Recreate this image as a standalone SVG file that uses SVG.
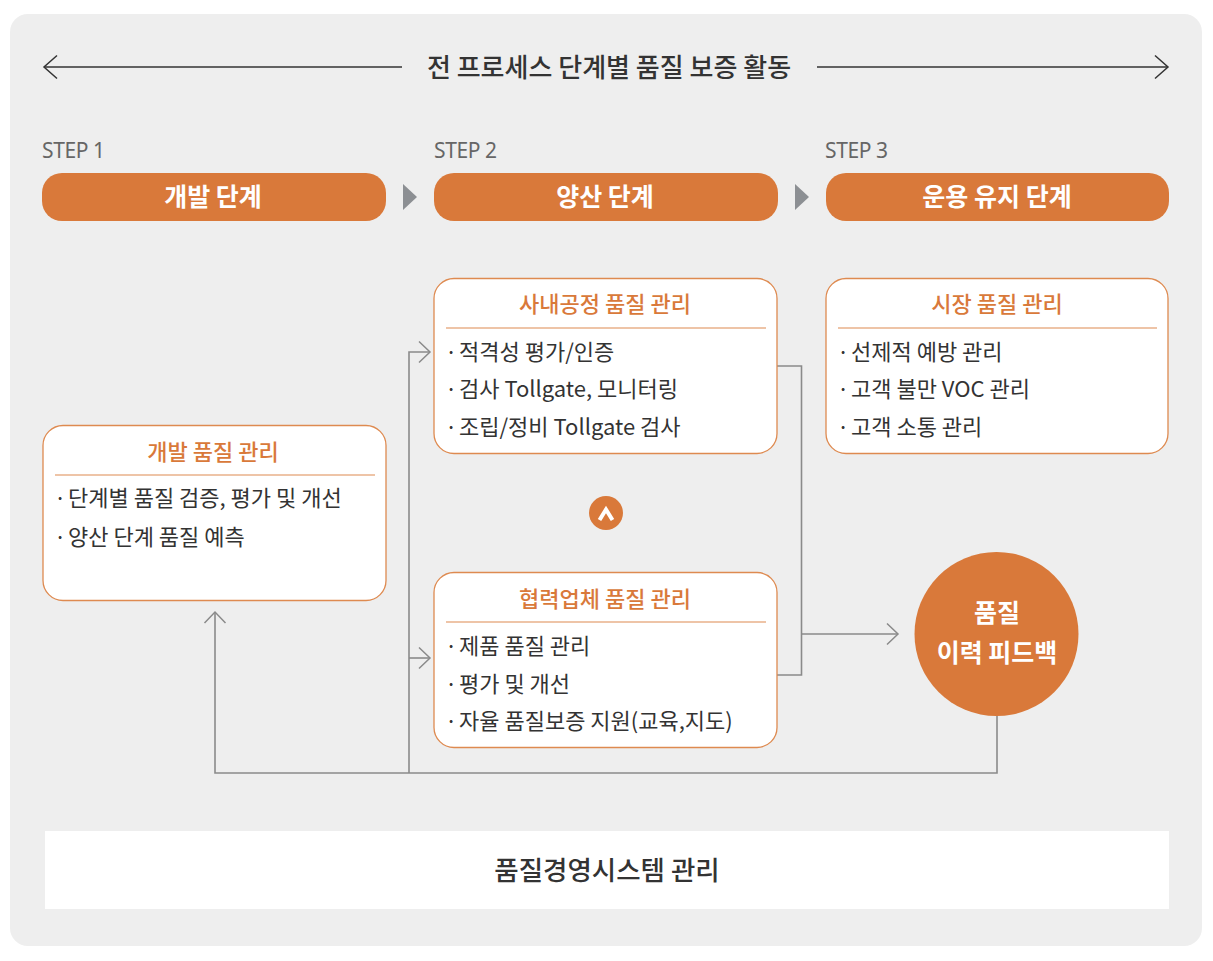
<svg xmlns="http://www.w3.org/2000/svg" width="1213" height="961" viewBox="0 0 1213 961">
<defs>
<style>
.k{font-family:"Noto Sans CJK KR","Noto Sans",sans-serif}
.step{font-family:"Noto Sans","Noto Sans CJK KR",sans-serif;font-size:21px;fill:#666;letter-spacing:-0.4px}
.pill{fill:#d9793a}
.pt{font-size:25px;font-weight:700;fill:#fff;text-anchor:middle}
.box{fill:#fff;stroke:#de8a50;stroke-width:1.3}
.bt{font-size:22px;font-weight:500;fill:#d9793a;text-anchor:middle}
.div{stroke:#de8a50;stroke-width:1.2}
.it{font-size:22px;fill:#333}
.con{fill:none;stroke:#8a8a8a;stroke-width:1.6}
.tri{fill:#8c8f93}
</style>
<marker id="ah" markerUnits="userSpaceOnUse" viewBox="-12 -12 14 24" refX="0" refY="0" markerWidth="14" markerHeight="24" orient="auto">
<path d="M-11,-10.5 L0,0 L-11,10.5" fill="none" stroke="#8a8a8a" stroke-width="1.5"/>
</marker>
<marker id="ahd" markerUnits="userSpaceOnUse" viewBox="-15 -13 17 26" refX="0" refY="0" markerWidth="17" markerHeight="26" orient="auto">
<path d="M-13,-11.5 L0,0 L-13,11.5" fill="none" stroke="#333" stroke-width="1.5"/>
</marker>
</defs>
<rect x="0" y="0" width="1213" height="961" fill="#fff"/>
<rect x="10" y="14" width="1192" height="932" rx="18" fill="#eeeeee"/>

<g id="header">
<line x1="402" y1="67" x2="44" y2="67" stroke="#333" stroke-width="1.5" marker-end="url(#ahd)"/>
<line x1="817" y1="67" x2="1168" y2="67" stroke="#333" stroke-width="1.5" marker-end="url(#ahd)"/>
<text class="k" x="609" y="76.5" font-size="26" font-weight="500" fill="#333" text-anchor="middle">전 프로세스 단계별 품질 보증 활동</text>
</g>

<g id="step1">
<text class="step" x="42" y="158">STEP 1</text>
<rect class="pill" x="42" y="173" width="344" height="48" rx="20"/>
<text class="k pt" x="213" y="206">개발 단계</text>
</g>
<polygon class="tri" points="403,184 417,197 403,210"/>
<g id="step2">
<text class="step" x="434" y="158">STEP 2</text>
<rect class="pill" x="434" y="173" width="344" height="48" rx="20"/>
<text class="k pt" x="605" y="206">양산 단계</text>
</g>
<polygon class="tri" points="795,184 809,197 795,210"/>
<g id="step3">
<text class="step" x="825" y="158">STEP 3</text>
<rect class="pill" x="826" y="173" width="343" height="48" rx="20"/>
<text class="k pt" x="997" y="206">운용 유지 단계</text>
</g>

<g id="connectors">
<path class="con" d="M777,366 H801.5 V675 H777"/>
<line class="con" x1="801.5" y1="634" x2="898" y2="634" marker-end="url(#ah)"/>
<path class="con" d="M997,716 V773 H215 V612" marker-end="url(#ah)"/>
<path class="con" d="M409,773 V352 H430" marker-end="url(#ah)"/>
<line class="con" x1="409" y1="658" x2="430" y2="658" marker-end="url(#ah)"/>
</g>

<g id="dev-quality">
<rect class="box" x="43" y="425.5" width="343" height="175" rx="20"/>
<text class="k bt" x="213" y="460">개발 품질 관리</text>
<line class="div" x1="55" y1="475" x2="375" y2="475"/>
<text class="k it" x="54" y="506">·</text><text class="k it" x="68" y="506">단계별 품질 검증, 평가 및 개선</text>
<text class="k it" x="54" y="545">·</text><text class="k it" x="68" y="545">양산 단계 품질 예측</text>
</g>

<g id="inhouse-quality">
<rect class="box" x="434" y="278.5" width="343" height="175" rx="20"/>
<text class="k bt" x="605" y="312">사내공정 품질 관리</text>
<line class="div" x1="446" y1="328" x2="766" y2="328"/>
<text class="k it" x="445" y="360">·</text><text class="k it" x="459" y="360">적격성 평가/인증</text>
<text class="k it" x="445" y="397">·</text><text class="k it" x="459" y="397">검사 Tollgate, 모니터링</text>
<text class="k it" x="445" y="435">·</text><text class="k it" x="459" y="435">조립/정비 Tollgate 검사</text>
</g>

<g id="up-icon">
<circle cx="606" cy="513" r="17" fill="#d9793a"/>
<path d="M599.5,520 L606,509.5 L612.5,520" fill="none" stroke="#fff" stroke-width="4" stroke-linejoin="miter"/>
</g>

<g id="supplier-quality">
<rect class="box" x="434" y="572.5" width="343" height="175" rx="20"/>
<text class="k bt" x="605" y="607">협력업체 품질 관리</text>
<line class="div" x1="446" y1="622" x2="766" y2="622"/>
<text class="k it" x="445" y="654">·</text><text class="k it" x="459" y="654">제품 품질 관리</text>
<text class="k it" x="445" y="692">·</text><text class="k it" x="459" y="692">평가 및 개선</text>
<text class="k it" x="445" y="729">·</text><text class="k it" x="459" y="729">자율 품질보증 지원(교육,지도)</text>
</g>

<g id="market-quality">
<rect class="box" x="826" y="278.5" width="342" height="175" rx="20"/>
<text class="k bt" x="997" y="312">시장 품질 관리</text>
<line class="div" x1="838" y1="328" x2="1157" y2="328"/>
<text class="k it" x="837" y="360">·</text><text class="k it" x="851" y="360">선제적 예방 관리</text>
<text class="k it" x="837" y="397">·</text><text class="k it" x="851" y="397">고객 불만 VOC 관리</text>
<text class="k it" x="837" y="435">·</text><text class="k it" x="851" y="435">고객 소통 관리</text>
</g>

<g id="feedback">
<circle cx="996.5" cy="634" r="82" fill="#d9793a"/>
<text class="k" x="997" y="622" font-size="25" font-weight="700" fill="#fff" text-anchor="middle">품질</text>
<text class="k" x="997" y="662" font-size="25" font-weight="700" fill="#fff" text-anchor="middle">이력 피드백</text>
</g>

<g id="qms">
<rect x="45" y="831" width="1124" height="78" fill="#fff"/>
<text class="k" x="607" y="880" font-size="26.5" font-weight="500" fill="#333" text-anchor="middle">품질경영시스템 관리</text>
</g>
</svg>
